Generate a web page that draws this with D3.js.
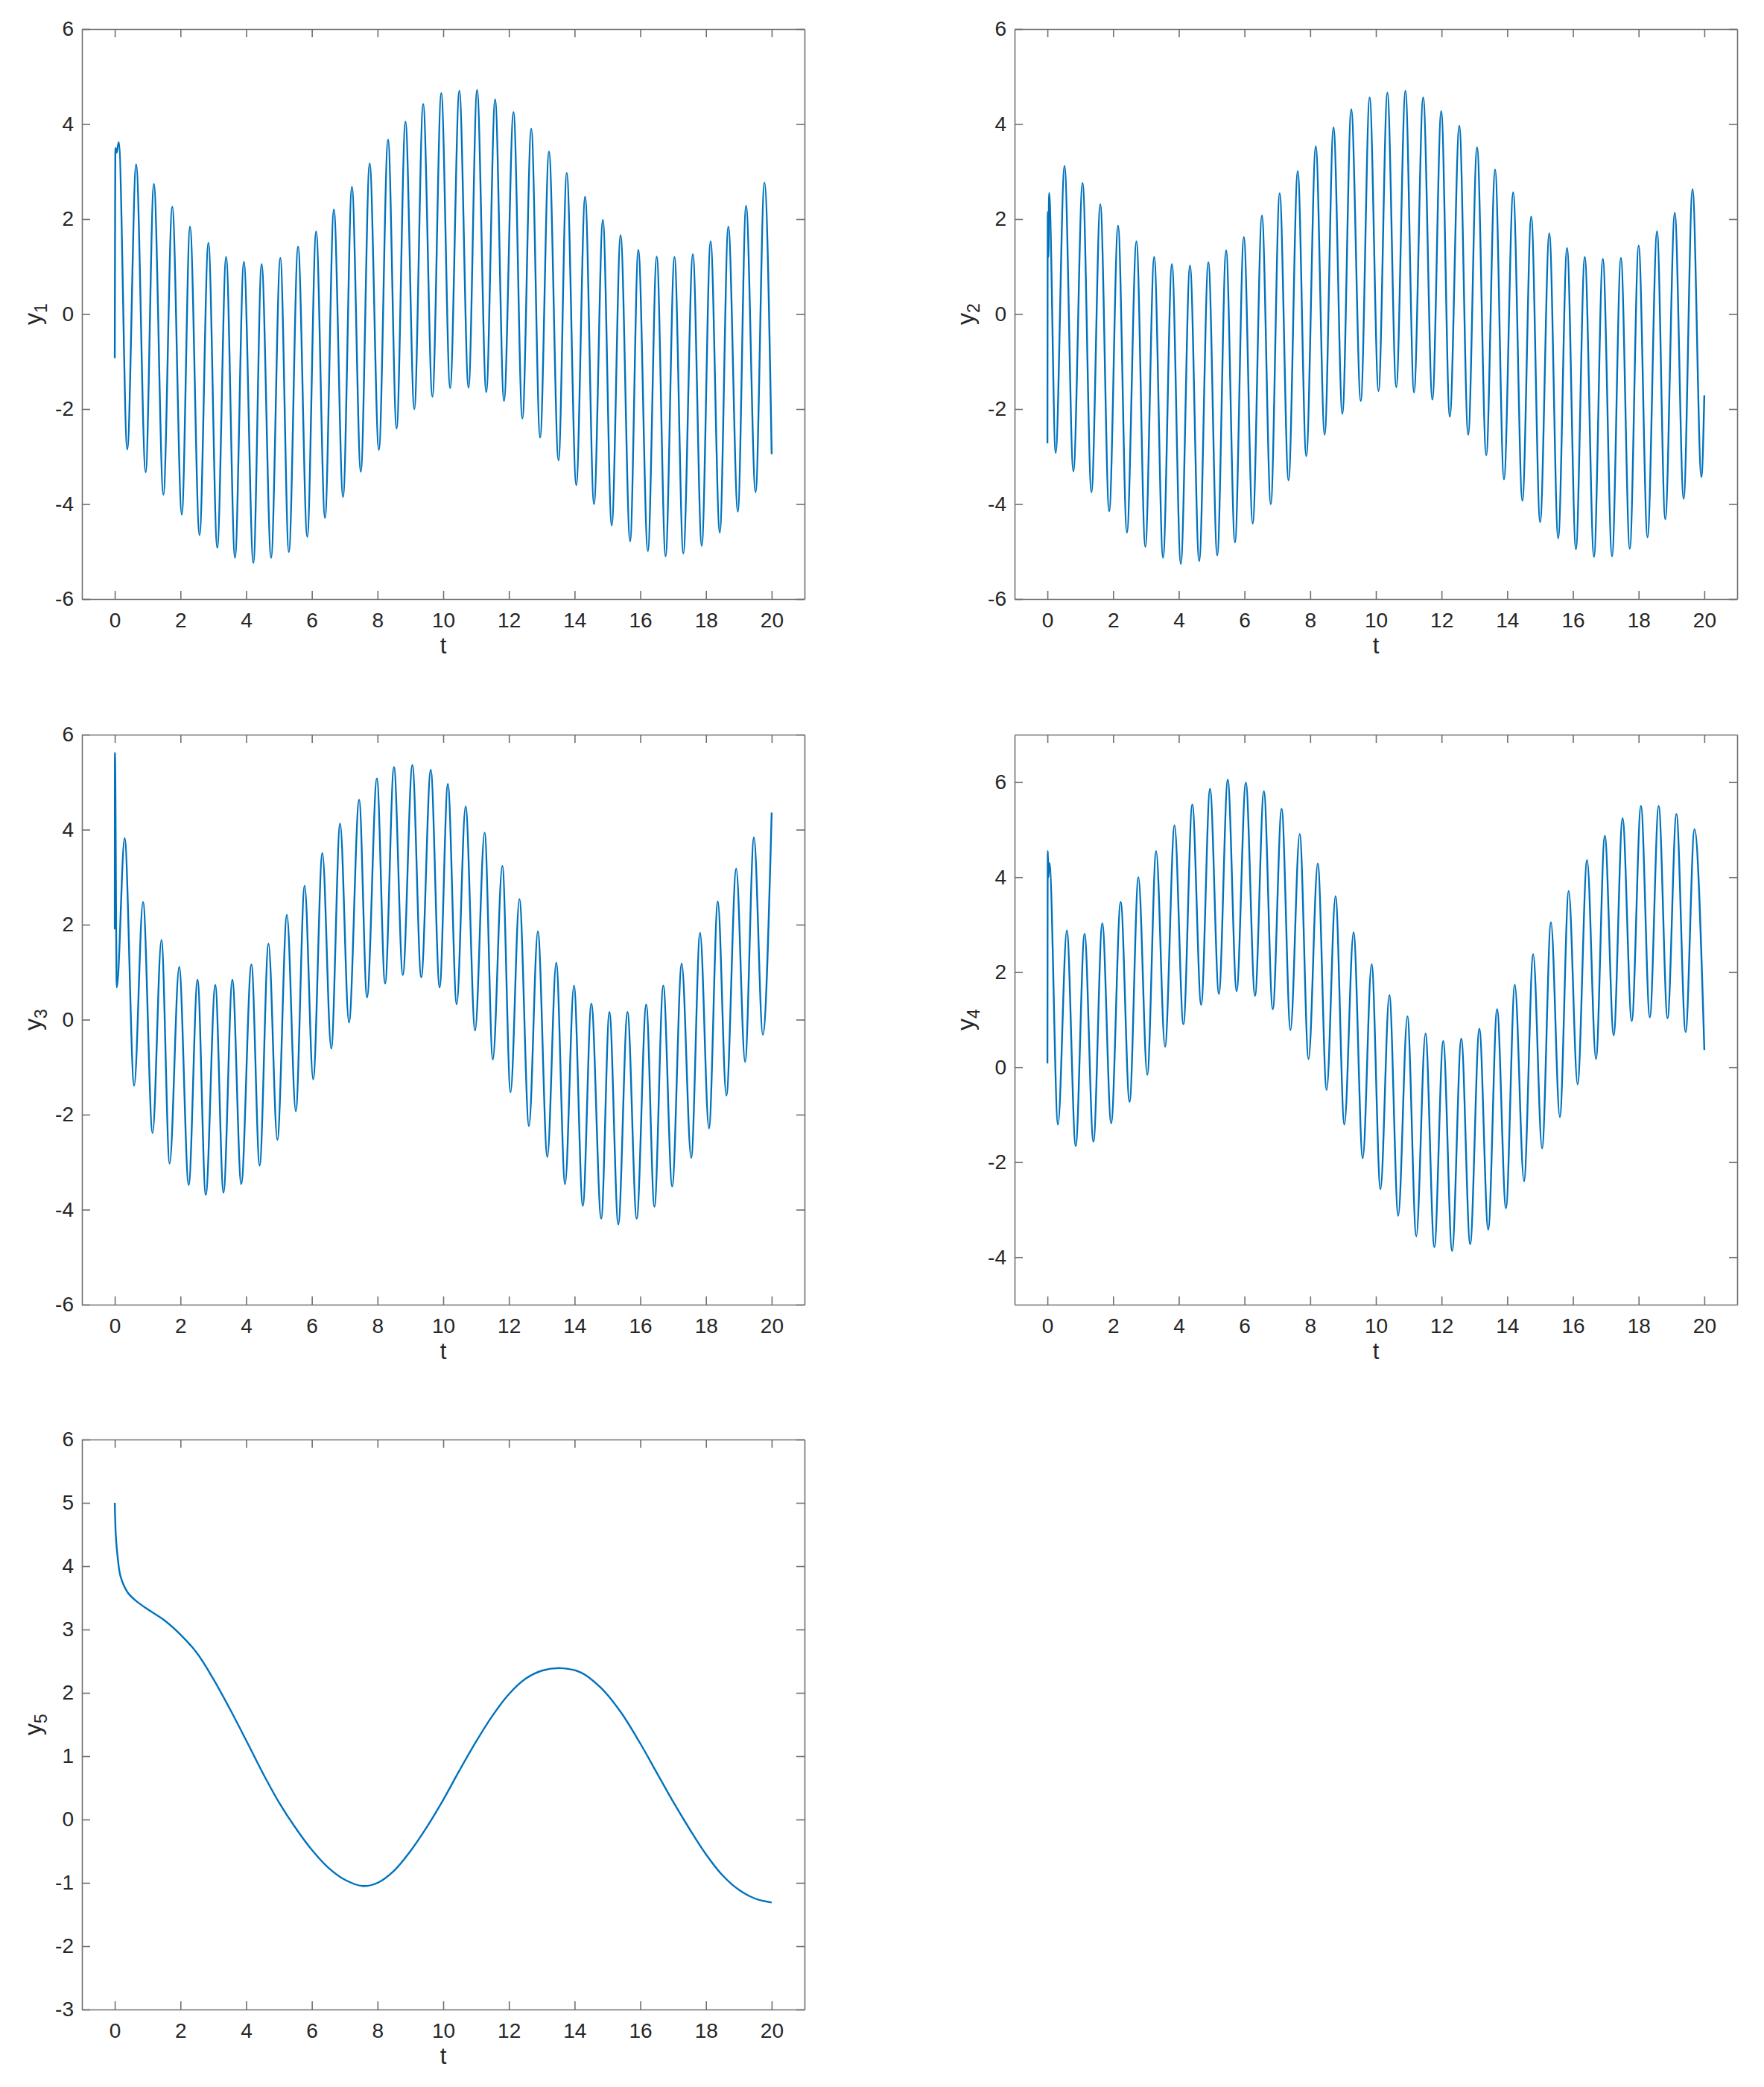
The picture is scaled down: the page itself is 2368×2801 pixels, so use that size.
<!DOCTYPE html>
<html>
<head>
<meta charset="utf-8">
<script src="https://cdn.jsdelivr.net/npm/d3@7"></script>
<style>
  html, body { margin: 0; padding: 0; background: #ffffff; }
  svg { display: block; }
</style>
</head>
<body>
<svg id="chart" width="2368" height="2801"></svg>
<script>
// ---------- data (local extrema of each trace) ----------
const xTicks = [0, 2, 4, 6, 8, 10, 12, 14, 16, 18, 20];
const xLabel = "t";

const y1Ticks = [-6, -4, -2, 0, 2, 4, 6];
const y2Ticks = [-6, -4, -2, 0, 2, 4, 6];
const y3Ticks = [-6, -4, -2, 0, 2, 4, 6];
const y4Ticks = [-4, -2, 0, 2, 4, 6];
const y5Ticks = [-3, -2, -1, 0, 1, 2, 3, 4, 5, 6];

const y1T = [0,0.02,0.06,0.12,0.38,0.65,0.94,1.19,1.48,1.75,2.04,2.29,2.58,2.85,3.12,3.39,3.66,3.93,4.22,4.47,4.76,5.04,5.30,5.58,5.86,6.13,6.40,6.67,6.95,7.22,7.49,7.76,8.04,8.32,8.58,8.85,9.12,9.39,9.67,9.94,10.21,10.49,10.77,11.03,11.31,11.58,11.85,12.14,12.41,12.68,12.95,13.22,13.51,13.76,14.05,14.32,14.59,14.86,15.13,15.40,15.69,15.94,16.23,16.50,16.77,17.04,17.31,17.60,17.87,18.14,18.42,18.68,18.97,19.22,19.51,19.78,20];
const y1V = [-0.93,3.5,3.4,3.62,-2.85,3.15,-3.33,2.74,-3.80,2.26,-4.22,1.84,-4.65,1.50,-4.92,1.20,-5.13,1.10,-5.24,1.05,-5.13,1.18,-5.01,1.42,-4.69,1.74,-4.29,2.20,-3.85,2.68,-3.32,3.17,-2.86,3.67,-2.41,4.05,-2.00,4.42,-1.74,4.65,-1.56,4.70,-1.55,4.72,-1.64,4.52,-1.83,4.25,-2.20,3.90,-2.60,3.42,-3.08,2.97,-3.60,2.47,-4.00,1.98,-4.45,1.66,-4.78,1.35,-4.99,1.21,-5.10,1.20,-5.04,1.26,-4.88,1.53,-4.60,1.84,-4.16,2.28,-3.75,2.77,-2.95];

const y2T = [0,0.01,0.03,0.05,0.25,0.52,0.79,1.07,1.34,1.61,1.88,2.15,2.42,2.71,2.98,3.25,3.52,3.79,4.06,4.34,4.62,4.90,5.17,5.44,5.71,5.98,6.25,6.53,6.80,7.07,7.34,7.62,7.88,8.17,8.44,8.71,8.98,9.25,9.54,9.81,10.08,10.35,10.62,10.90,11.16,11.44,11.72,11.99,12.25,12.54,12.81,13.08,13.36,13.63,13.90,14.18,14.46,14.73,15.00,15.28,15.55,15.82,16.09,16.36,16.64,16.91,17.19,17.46,17.73,18.00,18.27,18.56,18.81,19.10,19.37,19.64,19.91,20];
const y2V = [-2.72,2.15,1.2,2.55,-2.92,3.12,-3.31,2.76,-3.75,2.31,-4.15,1.86,-4.60,1.53,-4.90,1.20,-5.13,1.05,-5.26,1.02,-5.20,1.09,-5.08,1.34,-4.81,1.62,-4.41,2.07,-4.00,2.54,-3.50,3.01,-2.99,3.53,-2.54,3.93,-2.10,4.31,-1.83,4.56,-1.62,4.66,-1.54,4.70,-1.65,4.56,-1.80,4.27,-2.16,3.96,-2.54,3.51,-2.97,3.04,-3.48,2.56,-3.93,2.05,-4.38,1.70,-4.72,1.39,-4.95,1.20,-5.11,1.16,-5.10,1.18,-4.94,1.44,-4.70,1.74,-4.32,2.13,-3.89,2.63,-3.43,-1.71];

const y3T = [0,0.005,0.06,0.30,0.59,0.86,1.15,1.42,1.67,1.96,2.25,2.52,2.77,3.06,3.31,3.58,3.85,4.16,4.41,4.68,4.95,5.24,5.51,5.78,6.04,6.32,6.59,6.86,7.13,7.44,7.68,7.98,8.23,8.50,8.77,9.06,9.33,9.62,9.89,10.14,10.41,10.68,10.97,11.26,11.51,11.80,12.05,12.32,12.61,12.88,13.17,13.44,13.71,13.98,14.25,14.51,14.81,15.06,15.33,15.61,15.89,16.18,16.43,16.70,16.97,17.26,17.55,17.82,18.09,18.36,18.62,18.92,19.19,19.46,19.73,20];
const y3V = [1.9,5.62,0.68,3.82,-1.39,2.48,-2.39,1.68,-3.03,1.11,-3.48,0.84,-3.69,0.73,-3.64,0.84,-3.46,1.16,-3.07,1.60,-2.53,2.21,-1.93,2.82,-1.26,3.51,-0.61,4.13,-0.06,4.63,0.47,5.08,0.76,5.32,0.94,5.36,0.89,5.26,0.68,4.96,0.32,4.49,-0.23,3.94,-0.84,3.24,-1.53,2.54,-2.24,1.86,-2.89,1.20,-3.46,0.72,-3.92,0.34,-4.19,0.16,-4.31,0.16,-4.19,0.32,-3.94,0.72,-3.51,1.18,-2.91,1.83,-2.29,2.49,-1.60,3.18,-0.89,3.84,-0.32,4.36];

const y4T = [0,0.01,0.03,0.06,0.32,0.59,0.86,1.13,1.40,1.67,1.94,2.23,2.50,2.77,3.04,3.31,3.58,3.87,4.14,4.41,4.68,4.95,5.22,5.49,5.76,6.04,6.32,6.59,6.86,7.13,7.40,7.68,7.95,8.23,8.50,8.77,9.04,9.32,9.60,9.87,10.14,10.41,10.68,10.96,11.23,11.51,11.78,12.05,12.32,12.60,12.87,13.15,13.42,13.69,13.96,14.23,14.51,14.79,15.06,15.33,15.60,15.87,16.14,16.43,16.70,16.97,17.24,17.51,17.79,18.07,18.34,18.61,18.88,19.15,19.43,19.70,20];
const y4V = [0.08,4.55,4.0,4.3,-1.21,2.88,-1.66,2.81,-1.57,3.03,-1.18,3.48,-0.73,4.00,-0.16,4.55,0.43,5.09,0.90,5.53,1.31,5.86,1.54,6.05,1.60,5.99,1.50,5.81,1.22,5.44,0.78,4.91,0.17,4.29,-0.48,3.60,-1.21,2.84,-1.92,2.17,-2.57,1.52,-3.13,1.07,-3.56,0.71,-3.79,0.55,-3.87,0.60,-3.73,0.81,-3.42,1.22,-2.97,1.74,-2.40,2.38,-1.71,3.05,-1.05,3.71,-0.36,4.36,0.17,4.87,0.67,5.24,0.97,5.50,1.05,5.50,1.03,5.33,0.74,5.01,0.36];

const y5T = [0,0.03,0.08,0.18,0.4,0.7,1.0,1.5,2.0,2.5,3.0,3.5,4.0,4.5,5.0,5.5,6.0,6.5,7.0,7.55,8.0,8.5,9.0,9.5,10.0,10.5,11.0,11.5,12.0,12.5,13.0,13.6,14.2,14.8,15.4,16.0,16.5,17.0,17.5,18.0,18.5,19.0,19.5,20];
const y5V = [5.0,4.5,4.18,3.83,3.58,3.43,3.32,3.15,2.92,2.63,2.22,1.75,1.25,0.74,0.27,-0.13,-0.48,-0.76,-0.95,-1.05,-1.00,-0.81,-0.50,-0.12,0.31,0.78,1.23,1.64,1.98,2.22,2.35,2.39,2.32,2.08,1.70,1.20,0.74,0.28,-0.15,-0.55,-0.88,-1.11,-1.25,-1.31];

// ---------- layout ----------
const W = 970, H = 765;
const colX = [110, 1362];
const rowY = [39, 986, 1932];
const lineColor = "#0072BD";
const axisColor = "#6f6f6f";
const textColor = "#262626";
const fontFamily = "'Liberation Sans', Arial, Helvetica, sans-serif";

const panels = [
  { sub: "1", t: y1T, v: y1V, yDom: [-6, 6], yTicks: y1Ticks, x0: colX[0], y0: rowY[0], smooth: false },
  { sub: "2", t: y2T, v: y2V, yDom: [-6, 6], yTicks: y2Ticks, x0: colX[1], y0: rowY[0], smooth: false },
  { sub: "3", t: y3T, v: y3V, yDom: [-6, 6], yTicks: y3Ticks, x0: colX[0], y0: rowY[1], smooth: false },
  { sub: "4", t: y4T, v: y4V, yDom: [-5, 7], yTicks: y4Ticks, x0: colX[1], y0: rowY[1], smooth: false },
  { sub: "5", t: y5T, v: y5V, yDom: [-3, 6], yTicks: y5Ticks, x0: colX[0], y0: rowY[2], smooth: true }
];

const svg = d3.select("#chart");
svg.append("rect").attr("width", 2368).attr("height", 2801).attr("fill", "#ffffff");

const fmt = d => String(d);  // plain hyphen-minus like the reference

panels.forEach(p => {
  const g = svg.append("g").attr("transform", `translate(${p.x0},${p.y0})`);
  const x = d3.scaleLinear().domain([-1, 21]).range([0, W]);
  const y = d3.scaleLinear().domain(p.yDom).range([H, 0]);

  const n = Math.min(p.t.length, p.v.length);
  const pts = d3.range(n).map(i => [p.t[i], p.v[i]]);

  // data line
  const curve = p.smooth ? d3.curveCatmullRom.alpha(0.5) : d3.curveMonotoneX;
  const line = d3.line().x(d => x(d[0])).y(d => y(d[1])).curve(curve);
  g.append("path").datum(pts)
    .attr("fill", "none").attr("stroke", lineColor)
    .attr("stroke-width", 2.4).attr("stroke-linejoin", "round")
    .attr("d", line);

  // axes (inward ticks, box)
  const ax = [
    { a: d3.axisBottom(x).tickValues(xTicks).tickFormat(fmt).tickPadding(18), tr: `translate(0,${H})` },
    { a: d3.axisTop(x).tickValues(xTicks).tickFormat(""), tr: `translate(0,0)` },
    { a: d3.axisLeft(y).tickValues(p.yTicks).tickFormat(fmt).tickPadding(11), tr: `translate(0,0)` },
    { a: d3.axisRight(y).tickValues(p.yTicks).tickFormat(""), tr: `translate(${W},0)` }
  ];
  ax.forEach(o => {
    const ag = g.append("g").attr("transform", o.tr)
      .call(o.a.tickSizeInner(-11).tickSizeOuter(0));
    ag.select(".domain").attr("stroke", axisColor).attr("stroke-width", 1.6);
    ag.selectAll(".tick line").attr("stroke", axisColor).attr("stroke-width", 1.6);
    ag.selectAll(".tick text")
      .attr("fill", textColor)
      .style("font-family", fontFamily)
      .style("font-size", "28px");
  });

  // x label
  g.append("text")
    .attr("x", x(10)).attr("y", H + 73)
    .attr("text-anchor", "middle")
    .attr("fill", textColor)
    .style("font-family", fontFamily).style("font-size", "31px")
    .text(xLabel);

  // y label with subscript
  const yl = g.append("text")
    .attr("transform", `translate(-55,${H / 2}) rotate(-90)`)
    .attr("text-anchor", "middle")
    .attr("fill", textColor)
    .style("font-family", fontFamily).style("font-size", "32px");
  yl.append("tspan").text("y");
  yl.append("tspan").attr("dy", 8).style("font-size", "23px").text(p.sub);
});
</script>
</body>
</html>
